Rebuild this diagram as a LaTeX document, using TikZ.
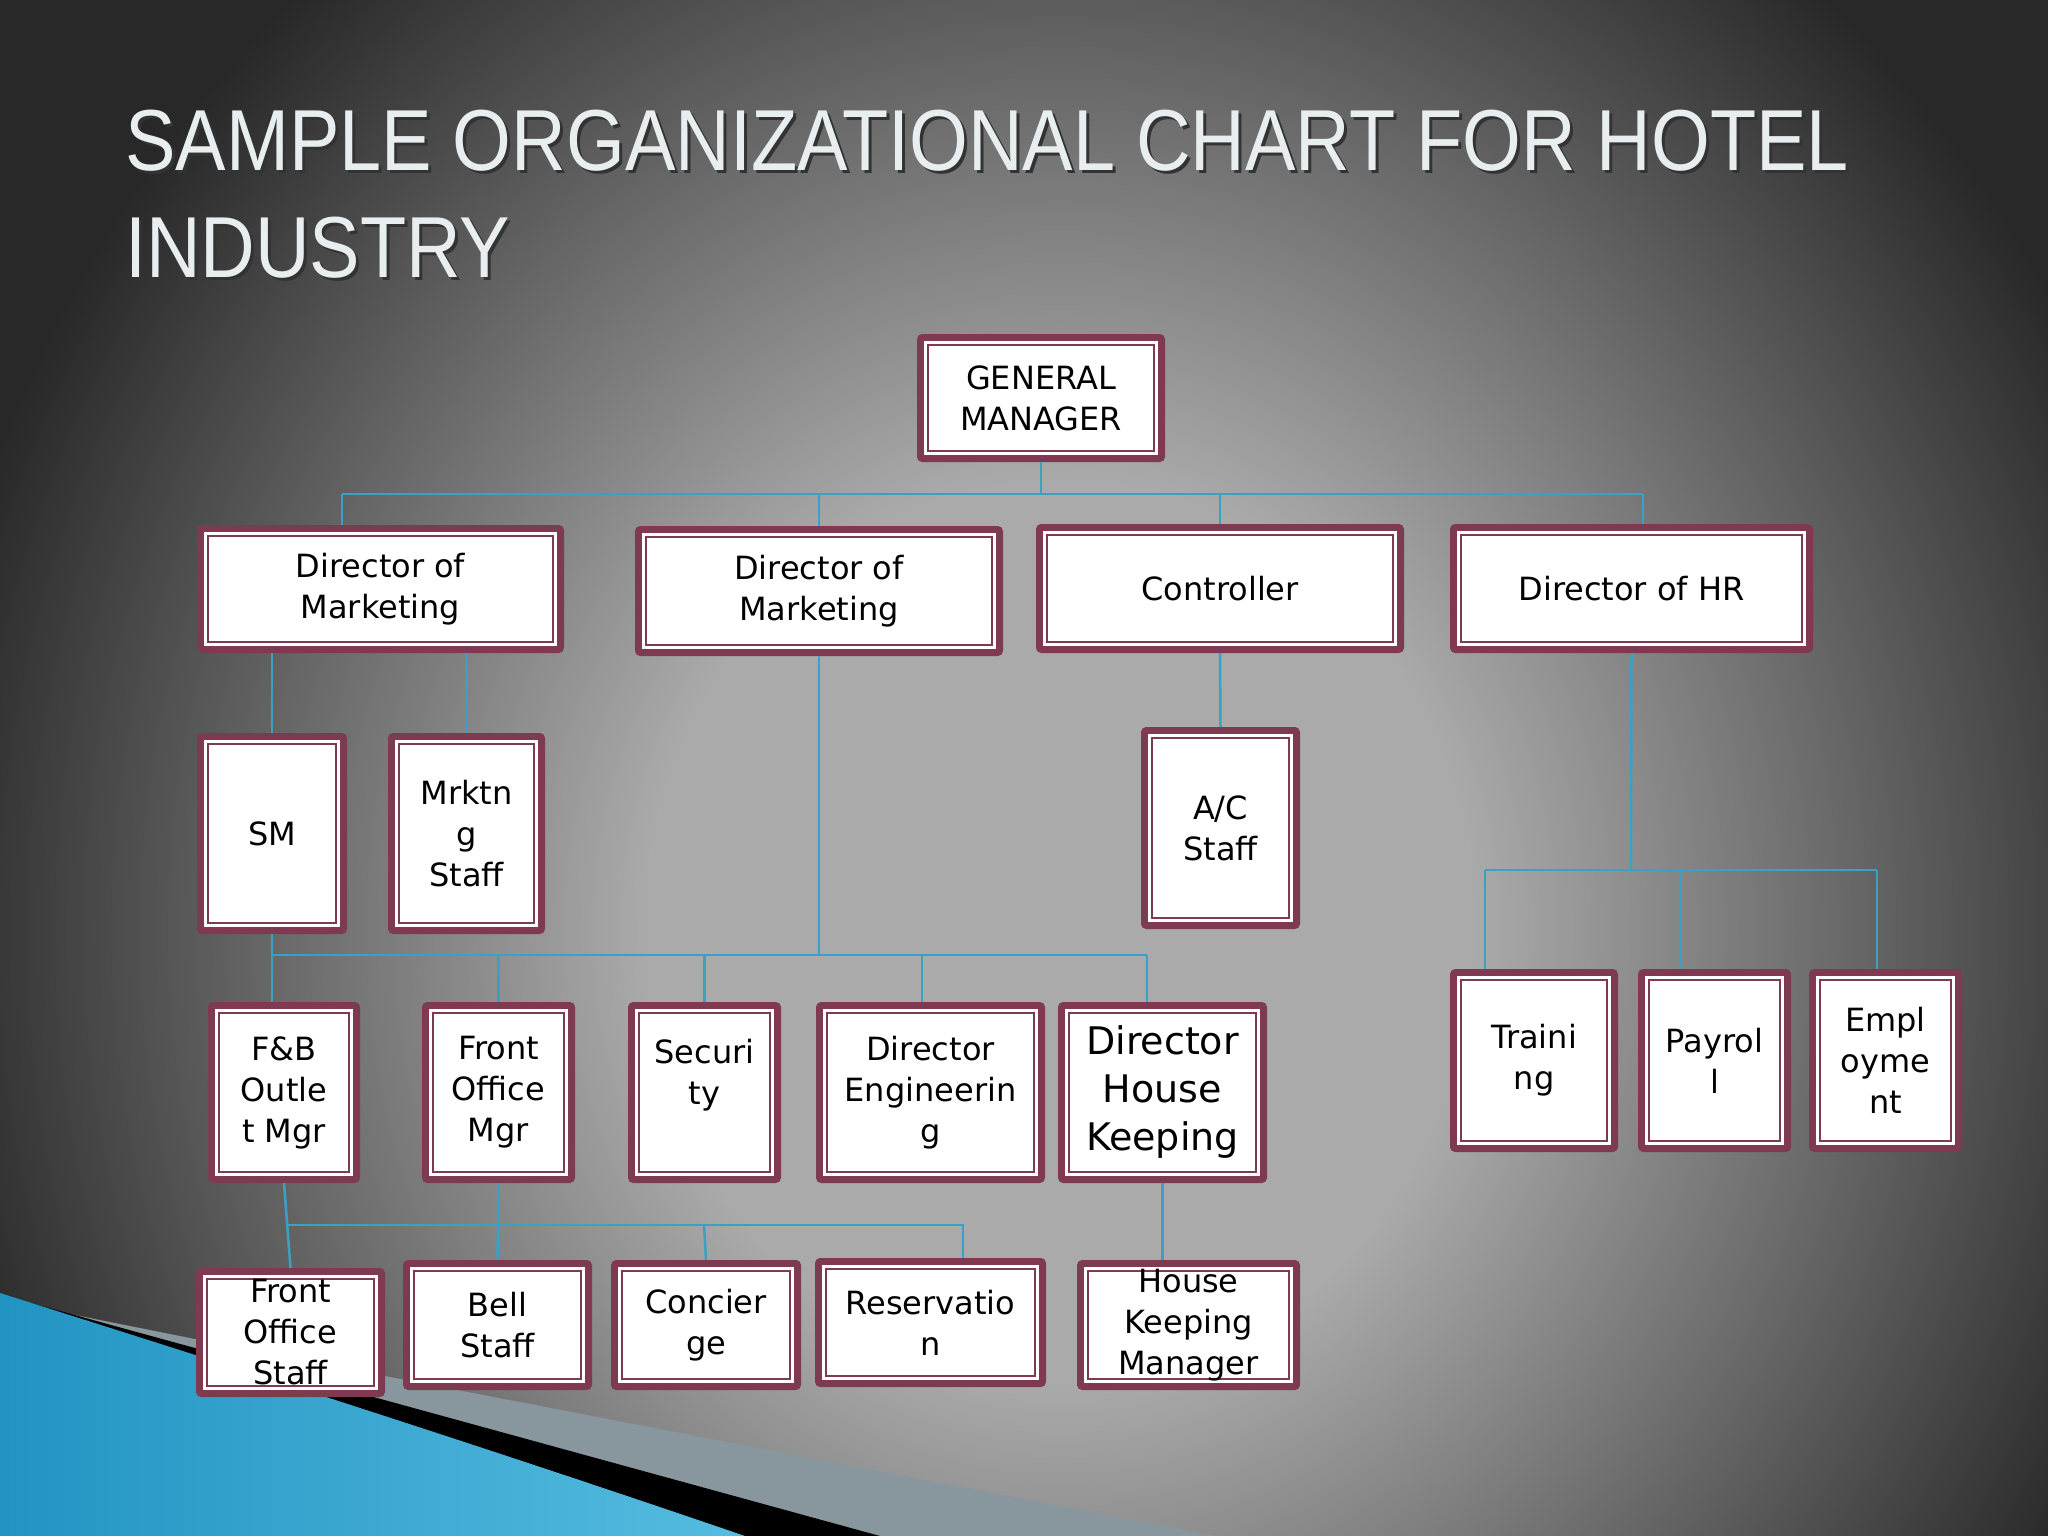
\documentclass[tikz,border=0pt]{standalone}
\usepackage{fontspec}
\setmainfont{DejaVu Sans}
\newfontfamily\titlefont{Liberation Sans}
\definecolor{boxred}{RGB}{126,58,80}
\definecolor{conncol}{RGB}{58,160,196}
\definecolor{bglight}{RGB}{170,170,170}
\definecolor{bgdark}{RGB}{40,40,40}
\definecolor{titlecol}{RGB}{232,238,240}
\definecolor{bluedark}{RGB}{34,148,194}
\definecolor{bluelight}{RGB}{86,188,224}
\definecolor{steel}{RGB}{136,150,158}
\pgfdeclareradialshading{bgsh}{\pgfpointorigin}{color(0bp)=(bglight); color(9bp)=(bglight); color(25bp)=(bgdark); color(50bp)=(bgdark)}
\tikzset{
  obox/.style={fill=boxred, rounded corners=5pt, inner sep=0pt, align=center,
    font=\fontsize{32}{41}\selectfont, text=black,
    path picture={
      \fill[white, sharp corners] ([shift={(7pt,-7pt)}]path picture bounding box.north west) rectangle ([shift={(-7pt,7pt)}]path picture bounding box.south east);
      \draw[boxred, line width=2pt, sharp corners] ([shift={(11pt,-11pt)}]path picture bounding box.north west) rectangle ([shift={(-11pt,11pt)}]path picture bounding box.south east);
    }},
  link/.style={draw=conncol, line width=2.5pt},
  ttl/.style={anchor=base west, inner sep=0pt, font=\titlefont\fontsize{86.6}{90}\selectfont},
}
\begin{document}
\begin{tikzpicture}[x=1pt, y=-1pt]
\useasboundingbox (0,0) rectangle (2048,1536);
% background
\begin{scope}
  \clip (0,0) rectangle (2048,1536);
  \fill[bgdark] (0,0) rectangle (2048,1536);
  \shade[shading=bgsh] (1060,930) ellipse [x radius=1150, y radius=1250];
  % swoosh
  \fill[steel] (250,1350) -- (1215,1536) -- (0,1536) -- (0,1300) -- cycle;
  \fill[black] (20,1300) -- (880,1536) -- (0,1536) -- cycle;
  \shade[left color=bluedark, right color=bluelight] (0,1293) .. controls (250,1372) and (500,1452) .. (745,1536) -- (0,1536) -- cycle;
\end{scope}
% title
\node[ttl, text=black!80] (t1s) at (128,173) {\scalebox{0.873}[1]{SAMPLE ORGANIZATIONAL CHART FOR HOTEL}};
\node[ttl, text=black!80] (t2s) at (128,280) {\scalebox{0.873}[1]{INDUSTRY}};
\node[ttl, text=titlecol] (t1) at (125,170) {\scalebox{0.873}[1]{SAMPLE ORGANIZATIONAL CHART FOR HOTEL}};
\node[ttl, text=titlecol] (t2) at (125,277) {\scalebox{0.873}[1]{INDUSTRY}};
% boxes
\node[obox, minimum width=248pt, minimum height=128pt] (gm) at (1041,398) {GENERAL\\MANAGER};
\node[obox, minimum width=367pt, minimum height=128pt] (dm1) at (380.5,589) {Director of\\Marketing};
\node[obox, minimum width=368pt, minimum height=130pt] (dm2) at (819,591) {Director of\\Marketing};
\node[obox, minimum width=368pt, minimum height=129pt] (ctl) at (1220,588.5) {Controller};
\node[obox, minimum width=363pt, minimum height=129pt] (hr) at (1631.5,588.5) {Director of HR};
\node[obox, minimum width=150pt, minimum height=201pt] (sm) at (272,833.5) {SM};
\node[obox, minimum width=157pt, minimum height=201pt] (mks) at (466.5,833.5) {Mrktn\\g\\Staff};
\node[obox, minimum width=159pt, minimum height=202pt] (acs) at (1220.5,828) {A/C\\Staff};
\node[obox, minimum width=152pt, minimum height=181pt] (fb) at (284,1092.5) {F\&B\\Outle\\t Mgr};
\node[obox, minimum width=153pt, minimum height=181pt] (fom) at (498.5,1092.5) {Front\\Office\\Mgr};
\node[obox, minimum width=153pt, minimum height=181pt] (sec) at (704.5,1092.5) {Securi\\ty\\\mbox{}};
\node[obox, minimum width=229pt, minimum height=181pt] (deng) at (930.5,1092.5) {Director\\Engineerin\\g};
\node[obox, minimum width=209pt, minimum height=181pt, font=\fontsize{38}{48}\selectfont] (dhk) at (1162.5,1092.5) {Director\\House\\Keeping};
\node[obox, minimum width=168pt, minimum height=183pt] (trn) at (1534,1060.5) {Traini\\ng};
\node[obox, minimum width=153pt, minimum height=183pt] (pay) at (1714.5,1060.5) {Payrol\\l};
\node[obox, minimum width=153pt, minimum height=183pt] (emp) at (1885.5,1060.5) {Empl\\oyme\\nt};
\node[obox, minimum width=189pt, minimum height=129pt] (fos) at (290.5,1332.5) {Front\\Office\\Staff};
\node[obox, minimum width=189pt, minimum height=130pt] (bell) at (497.5,1325) {Bell\\Staff};
\node[obox, minimum width=190pt, minimum height=130pt] (conc) at (706,1325) {Concier\\ge};
\node[obox, minimum width=231pt, minimum height=129pt] (res) at (930.5,1322.5) {Reservatio\\n};
\node[obox, minimum width=223pt, minimum height=130pt] (hkm) at (1188.5,1325) {House\\Keeping\\Manager};
% connectors
\coordinate (b1m) at (1041,494);
\coordinate (b1l) at (342,494);
\coordinate (b1r) at (1643,494);
\draw[link] (gm.south) -- (b1m);
\draw[link] (b1l) -- (b1r);
\draw[link] (b1l) -- (b1l |- dm1.north);
\draw[link] (dm2.north |- b1l) -- (dm2.north);
\draw[link] (ctl.north |- b1l) -- (ctl.north);
\draw[link] (b1r) -- (b1r |- hr.north);
\draw[link] (sm.north |- dm1.south) -- (sm.north);
\draw[link] (mks.north |- dm1.south) -- (mks.north);
\coordinate (b2l) at (272,955);
\coordinate (b2r) at (1147,955);
\coordinate (b2d) at (922,955);
\draw[link] (dm2.south) -- (dm2.south |- b2l);
\draw[link] (sm.south) -- (b2l) -- (b2r);
\draw[link] (b2l) -- (b2l |- fb.north);
\draw[link] (fom.north |- b2l) -- (fom.north);
\draw[link] (sec.north |- b2l) -- (sec.north);
\draw[link] (b2d) -- (b2d |- deng.north);
\draw[link] (b2r) -- (b2r |- dhk.north);
\draw[link] (ctl.south) -- (acs.north);
\coordinate (b3m) at (1631,870);
\coordinate (b3l) at (1485,870);
\coordinate (b3p) at (1680,870);
\coordinate (b3r) at (1877,870);
\draw[link] (hr.south) -- (b3m);
\draw[link] (b3l) -- (b3r);
\draw[link] (b3l) -- (b3l |- trn.north);
\draw[link] (b3p) -- (b3p |- pay.north);
\draw[link] (b3r) -- (b3r |- emp.north);
\coordinate (b4l) at (287,1225);
\coordinate (b4c) at (704,1225);
\coordinate (b4r) at (963,1225);
\draw[link] (fb.south) -- (fos.north);
\draw[link] (b4l) -- (b4r) -- (b4r |- res.north);
\draw[link] (fom.south) -- (bell.north);
\draw[link] (b4c) -- (conc.north);
\draw[link] (dhk.south) -- (dhk.south |- hkm.north);
\end{tikzpicture}
\end{document}
